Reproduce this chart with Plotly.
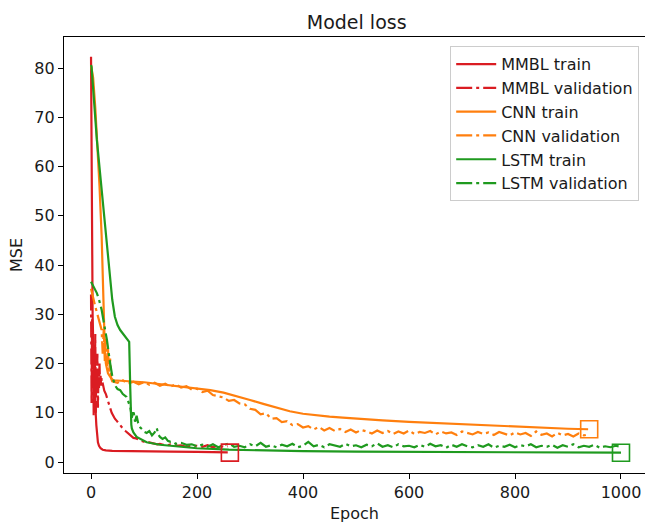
import plotly.graph_objects as go

# ---------------- data ----------------
mmbl_train_epochs = [0, 1, 2, 3, 4, 5, 6, 7, 8, 9, 10, 11, 12, 13, 15, 18, 22, 28, 40, 60, 100, 150, 200, 258]
mmbl_train_loss = [82.3, 55, 38, 30, 25, 21, 18, 15, 12, 9.5, 7.5, 6.0, 4.8, 4.0, 3.3, 2.8, 2.5, 2.35, 2.25, 2.2, 2.15, 2.1, 2.05, 1.95]

mmbl_val_epochs = [0, 1, 2, 3, 4, 5, 6, 7, 8, 9, 10, 11, 12, 13, 14, 15, 16, 17, 18, 19, 20, 22, 25, 28, 30,
                   33, 36, 39, 41, 45, 49, 55, 60, 65, 70, 75, 80, 85, 90, 95, 100, 106, 110, 117, 125, 130,
                   136, 145, 150, 160, 170, 180, 190, 200, 210, 220, 230, 240, 250, 258]
mmbl_val_loss = [34, 12, 29, 16, 24, 9.5, 21, 13, 26, 10, 19, 14, 22, 11, 18, 15, 20, 16, 17.5, 15.5, 17, 16, 14.5, 13.8, 13,
                 12, 11, 10, 9.5, 8.8, 8.3, 7.4, 6.8, 6.3, 5.8, 5.4, 4.9, 4.8, 4.5, 4.3, 4.1, 3.9, 4.0, 3.8, 3.6, 3.7,
                 3.5, 3.4, 3.6, 3.3, 3.4, 3.1, 3.3, 3.3, 3.1, 3.4, 3.0, 3.3, 3.1, 3.2]

cnn_train_epochs = [0, 4, 8, 12, 16, 20, 22, 24, 26, 28, 32, 38, 42, 100, 150, 200, 225, 250, 275, 300, 325, 350,
                    375, 400, 425, 450, 475, 500, 550, 600, 650, 700, 750, 800, 850, 900, 938]
cnn_train_loss = [80.6, 78, 72, 65, 56, 46, 38, 30, 23, 20, 18, 17, 16.6, 16.2, 15.6, 15.0, 14.6, 14.1, 13.4, 12.6, 11.8, 11.0,
                  10.3, 9.8, 9.45, 9.2, 9.0, 8.8, 8.45, 8.15, 7.9, 7.6, 7.35, 7.1, 6.9, 6.75, 6.65]

cnn_val_epochs = [0, 3, 6, 9, 12, 15, 18, 20, 22, 24, 26, 28, 30, 32, 34, 36, 38] + list(range(40, 940, 10)) + [938]
cnn_val_loss = [35.2, 33.5, 32.5, 31.2, 30, 28.8, 27.5, 26.8, 22, 27, 20.5, 25, 19.5, 23, 18, 21, 17,
                16.4, 16.1, 16.6, 15.9, 16.3, 15.8, 16.2, 15.7, 16.1, 15.5,
                15.9, 15.3, 15.8, 15.1, 15.4, 14.7, 14.9, 14.2, 14.5, 13.6,
                13.4, 13.1, 12.4, 12.6, 11.9, 11.7, 10.8, 10.6, 9.7, 9.9,
                8.8, 8.9, 8.1, 8.3, 7.5, 7.7, 7.0, 7.3, 6.6, 7.1,
                6.4, 6.9, 6.3, 6.7, 6.1, 6.6, 6.0, 6.5, 6.2, 5.8,
                6.4, 5.9, 6.3, 5.7, 6.2, 5.8, 6.4, 5.7, 6.1, 5.9,
                6.3, 5.6, 6.2, 5.8, 6.0, 5.5, 6.2, 5.9, 5.6, 6.1,
                5.7, 6.0, 5.5, 6.1, 5.8, 5.4, 6.0, 5.6, 5.9, 5.3,
                6.2, 5.5, 5.8, 5.2, 5.9, 5.4, 5.7, 5.2, 5.8, 5.4,
                5.6]

lstm_train_epochs = [0, 1, 11, 20, 28, 30, 36, 40, 45, 50, 55, 65, 72, 74, 75, 76, 77, 80, 86, 95, 105, 130, 168,
                     200, 260, 320, 400, 500, 600, 700, 800, 900, 1000]
lstm_train_loss = [80.6, 80.2, 65.4, 55, 47, 45, 38, 33, 29.5, 27.8, 26.8, 25.4, 24.4, 15, 9.0, 7.6, 6.8, 6.0, 5.1, 4.5, 4.0,
                   3.5, 3.1, 2.8, 2.5, 2.35, 2.2, 2.1, 2.05, 2.0, 1.95, 1.9, 1.9]

lstm_val_epochs = [0, 5, 11, 15, 20, 25, 30, 36, 40, 45, 50, 55, 60, 67, 72, 74, 77, 80, 83, 86, 89, 93, 97, 101,
                   105, 110, 115, 120, 124, 127, 130, 135, 140, 145, 150, 155, 160, 170, 180, 190, 200] + list(range(210, 1010, 10))
lstm_val_loss = [36.6, 35.6, 34.3, 33, 30.9, 27.8, 24.8, 20.1, 17.5, 15.6, 14.8, 14.6, 13.8, 13.2, 12.0, 11.2, 9.0, 10.5, 8.2,
                 9.4, 7.9, 7.0, 6.6, 6.1, 5.9, 6.3, 5.4, 6.0, 6.9, 5.6, 5.1, 4.7, 5.0, 4.3, 4.1, 4.1, 3.7, 3.9, 3.5, 3.6, 3.2,
                 3.5, 3.1, 3.6, 3.0, 3.4, 3.8, 3.1, 3.3, 3.0, 3.6,
                 3.2, 3.9, 3.1, 3.4, 3.0, 3.5, 3.2, 3.7, 3.0, 3.3,
                 4.1, 3.2, 3.5, 3.0, 3.6, 3.3, 3.1, 3.7, 3.2, 3.4,
                 3.0, 3.5, 3.2, 3.8, 3.1, 3.4, 3.0, 3.6, 3.2, 3.3,
                 3.0, 3.5, 3.1, 3.7, 3.2, 3.4, 2.9, 3.5, 3.1, 3.6,
                 3.2, 3.0, 3.4, 3.1, 3.6, 2.9, 3.3, 3.1, 3.5, 3.0,
                 3.4, 3.2, 3.6, 3.0, 3.3, 3.1, 3.5, 2.9, 3.4, 3.1,
                 3.6, 3.0, 3.3, 3.1, 3.5, 2.9, 3.2, 3.0, 3.3, 3.1]

# final-point markers (open squares)
marker_epochs = [262, 940, 1000]
marker_loss = [1.9, 6.64, 1.89]

x_ticks = [0, 200, 400, 600, 800, 1000]
y_ticks = [0, 10, 20, 30, 40, 50, 60, 70, 80]

# ---------------- styling ----------------
RED = "#da1c22"
ORANGE = "#ff7f0e"
GREEN = "#1f9a1f"
DASHDOT = "16px,4px,3px,4px"
FONT = "DejaVu Sans"
TXT = "#1a1a1a"

fig = go.Figure()

series = [
    ("MMBL train", mmbl_train_epochs, mmbl_train_loss, RED, "solid"),
    ("MMBL validation", mmbl_val_epochs, mmbl_val_loss, RED, DASHDOT),
    ("CNN train", cnn_train_epochs, cnn_train_loss, ORANGE, "solid"),
    ("CNN validation", cnn_val_epochs, cnn_val_loss, ORANGE, DASHDOT),
    ("LSTM train", lstm_train_epochs, lstm_train_loss, GREEN, "solid"),
    ("LSTM validation", lstm_val_epochs, lstm_val_loss, GREEN, DASHDOT),
]

for i, (name, xs, ys, col, dash) in enumerate(series):
    fig.add_trace(go.Scatter(
        x=xs, y=ys, mode="lines", name=name,
        line=dict(color=col, width=2.2, dash=dash),
    ))

for ex, ly, col in zip(marker_epochs, marker_loss, [RED, ORANGE, GREEN]):
    fig.add_trace(go.Scatter(
        x=[ex], y=[ly], mode="markers", showlegend=False,
        marker=dict(symbol="square-open", size=17, color=col, line=dict(width=1.6, color=col)),
    ))

axis_common = dict(
    showline=True, linecolor="black", linewidth=1.3,
    ticks="outside", ticklen=5, tickwidth=1.3, tickcolor="black",
    showgrid=False, zeroline=False,
    tickfont=dict(family=FONT, size=16, color=TXT),
)

fig.update_layout(
    width=645, height=523,
    margin=dict(l=64, r=0, t=37, b=50),
    plot_bgcolor="white", paper_bgcolor="white",
    title=dict(text="Model loss", x=0.553, xanchor="center", y=0.958, yanchor="middle",
               font=dict(family=FONT, size=19, color=TXT)),
    xaxis=dict(range=[-51, 1045.3], tickvals=x_ticks, mirror=True,
               title=dict(text="Epoch", font=dict(family=FONT, size=16, color=TXT), standoff=6),
               **axis_common),
    yaxis=dict(range=[-2.23, 86.3], tickvals=y_ticks, mirror=False,
               title=dict(text="MSE", font=dict(family=FONT, size=16, color=TXT), standoff=7),
               **axis_common),
    legend=dict(x=0.99, xanchor="right", y=0.979, yanchor="top",
                bgcolor="rgba(255,255,255,0.85)", bordercolor="#cccccc", borderwidth=1,
                font=dict(family=FONT, size=16, color=TXT),
                itemwidth=40, tracegroupgap=0),
    showlegend=True,
)

fig.write_html("out.html")
